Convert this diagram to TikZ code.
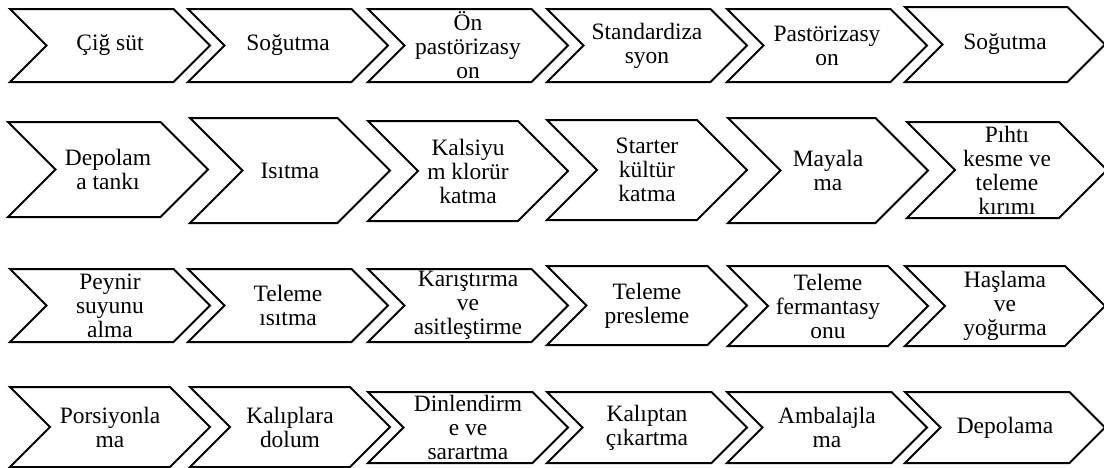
\documentclass[tikz,border=0pt]{standalone}
\usepackage{fontspec}
\setmainfont{Liberation Serif}
\tikzset{
  chevbox/.style={draw=black, line width=1.5pt, fill=white, line join=miter},
  chevtext/.style={align=center, inner sep=0pt, font=\fontsize{17.6}{18}\selectfont}
}
\newcommand\chev[5]{%
  \pgfmathsetmacro\hh{(#4-#3)/2}%
  \draw[chevbox] (#2,#3) -- ++({200-\hh},0) -- ++(\hh,\hh) -- ++(-\hh,\hh) -- (#2,#4) -- ++(\hh,-\hh) -- cycle;
  \node[chevtext] (#1) at ({#2+100},{(#3+#4)/2}) {#5};
}
\begin{document}
\begin{tikzpicture}[x=0.75pt,y=-0.75pt]
\useasboundingbox (0,0) rectangle (1104,468);
% row 1
\chev{a1}{10}{9}{82}{Çiğ süt}
\chev{a2}{188}{9}{82}{Soğutma}
\chev{a3}{368}{9}{82}{Ön\\pastörizasy\\on}
\chev{a4}{547}{9}{82}{Standardiza\\syon}
\chev{a5}{727}{9}{82}{Pastörizasy\\on}
\chev{a6}{905}{7}{82}{Soğutma}
% row 2
\chev{b1}{8}{122}{217}{Depolam\\a tankı}
\chev{b2}{190}{118}{223}{Isıtma}
\chev{b3}{368}{121}{221}{Kalsiyu\\m klorür\\katma}
\chev{b4}{547}{120}{220}{Starter\\kültür\\katma}
\chev{b5}{728}{118}{223}{Mayala\\ma}
\chev{b6}{907}{122}{218}{Pıhtı\\kesme ve\\teleme\\kırımı}
% row 3
\chev{c1}{10}{269}{342}{Peynir\\suyunu\\alma}
\chev{c2}{188}{269}{342}{Teleme\\ısıtma}
\chev{c3}{368}{269}{342}{Karıştırma\\ve\\asitleştirme}
\chev{c4}{547}{266}{345}{Teleme\\presleme}
\chev{c5}{728}{266}{346}{Teleme\\fermantasy\\onu}
\chev{c6}{905}{266}{346}{Haşlama\\ve\\yoğurma}
% row 4
\chev{d1}{10}{387}{467}{Porsiyonla\\ma}
\chev{d2}{190}{387}{467}{Kalıplara\\dolum}
\chev{d3}{368}{392}{463}{Dinlendirm\\e ve\\sarartma}
\chev{d4}{547}{392}{463}{Kalıptan\\çıkartma}
\chev{d5}{727}{392}{463}{Ambalajla\\ma}
\chev{d6}{905}{392}{463}{Depolama}
\end{tikzpicture}
\end{document}
